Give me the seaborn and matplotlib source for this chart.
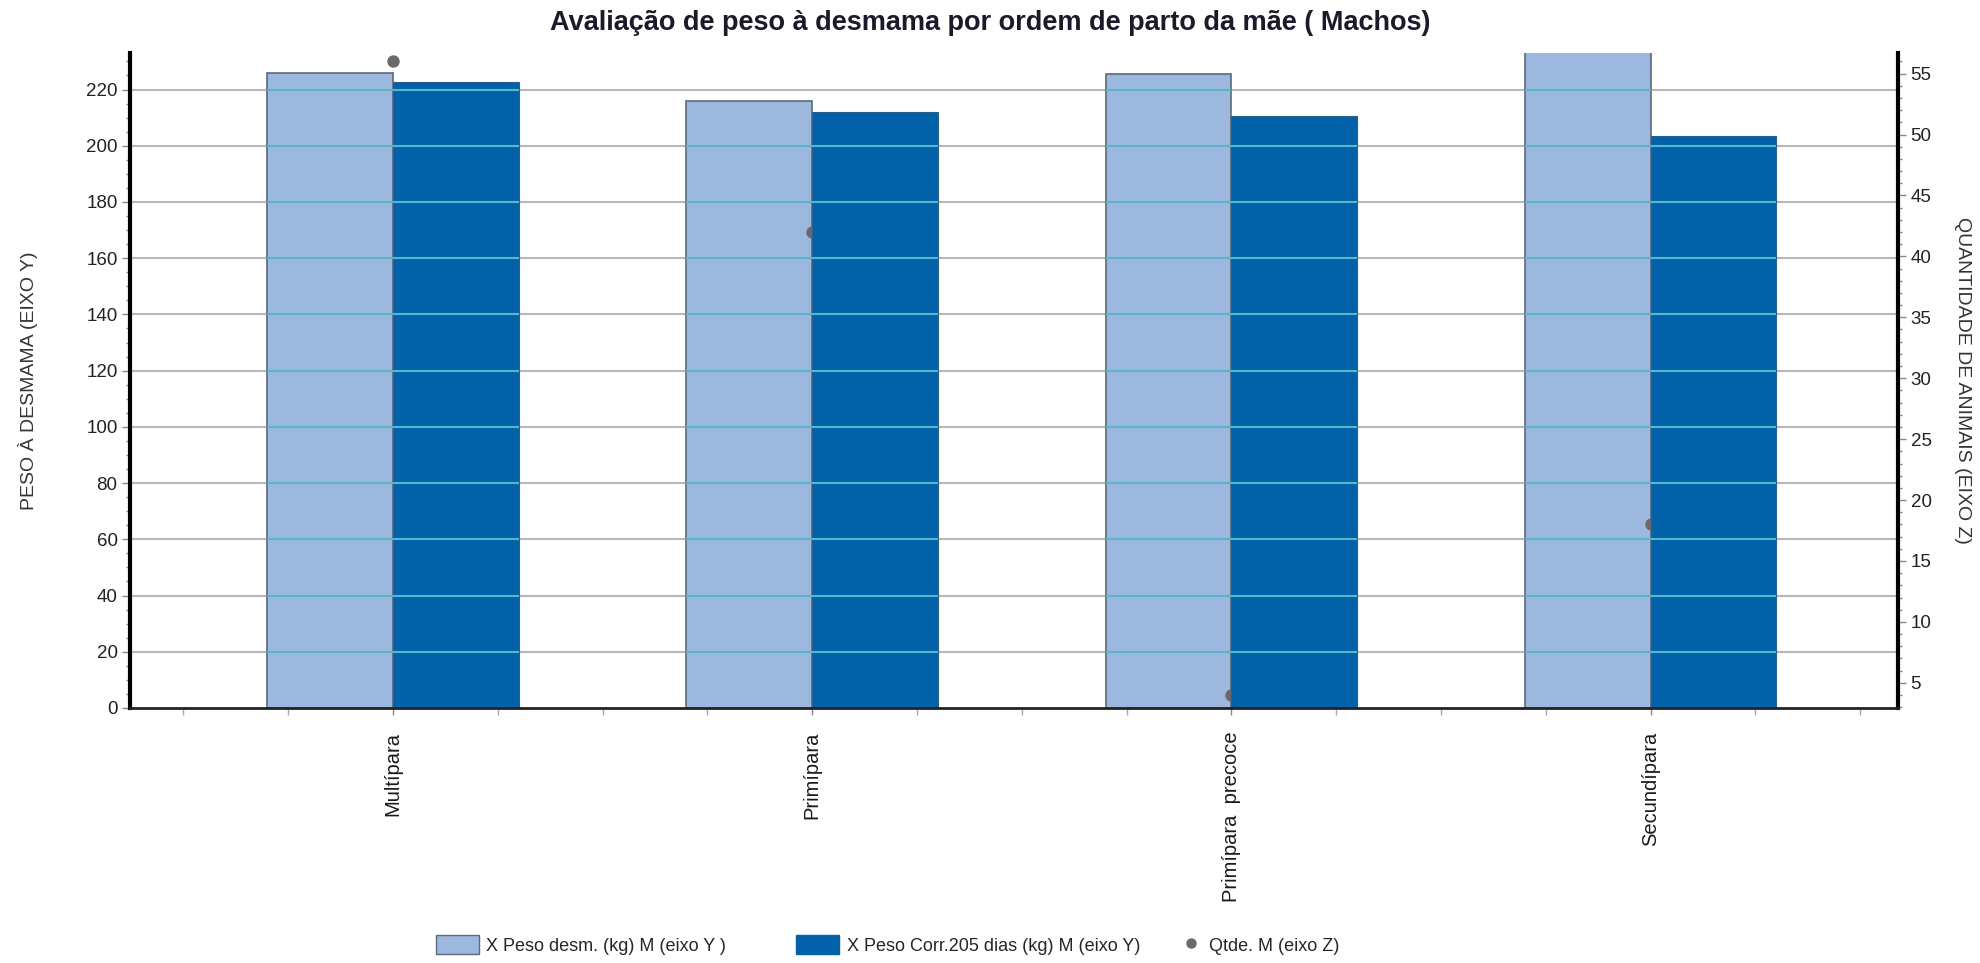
import numpy as np
import pandas as pd
import matplotlib
matplotlib.use("Agg")
import matplotlib.pyplot as plt
import seaborn as sns
from matplotlib.ticker import MultipleLocator
from matplotlib.patches import Patch
from matplotlib.lines import Line2D

# ---------------- data ----------------
categorias = ["Multípara", "Primípara", "Primípara  precoce", "Secundípara"]
peso_desm = [226.0, 216.0, 225.5, 240.0]
peso_corr205 = [222.5, 212.0, 210.5, 203.5]
qtde = [56, 42, 4, 18]
series = ["X Peso desm. (kg) M (eixo Y )", "X Peso Corr.205 dias (kg) M (eixo Y)"]
serie_qtde = "Qtde. M (eixo Z)"
y_ticks = list(range(0, 221, 20))
z_ticks = list(range(5, 56, 5))

# ---------------- style ----------------
sns.set_theme(style="white")
plt.rcParams["font.family"] = ["Liberation Sans", "DejaVu Sans"]

c_light = "#9db8df"
c_dark = "#0262a9"
c_point = "#6a6a6a"

df = pd.DataFrame({
    "categoria": categorias * 2,
    "serie": [series[0]] * len(categorias) + [series[1]] * len(categorias),
    "valor": peso_desm + peso_corr205,
})

fig = plt.figure(figsize=(19.8, 9.63), dpi=100)
ax = fig.add_axes([0.0657, 0.2648, 0.8929, 0.6802])

sns.barplot(data=df, x="categoria", y="valor", hue="serie", order=categorias,
            hue_order=series, palette=[c_light, c_dark], width=0.6,
            dodge=True, legend=False, ax=ax, saturation=1)

# bar styling
for patch in ax.containers[0]:
    patch.set_edgecolor("#5c6b7c")
    patch.set_linewidth(1.2)
    patch.set_zorder(2)
for patch in ax.containers[1]:
    patch.set_edgecolor("#2d5f8c")
    patch.set_linewidth(0.8)
    patch.set_zorder(3)

ax.set_xlim(-0.627, 3.59)
ax.set_ylim(0, 233)

# secondary axis
ax2 = ax.twinx()
ax2.set_ylim(2.93, 56.7)
ax2.set_yticks(z_ticks)
ax2.yaxis.set_minor_locator(MultipleLocator(1))

# points drawn in primary axes with the secondary scale (to sit between bars)
xpos = np.arange(len(categorias))
ax.scatter(xpos, qtde, transform=ax2.transData, s=80, color=c_point,
           zorder=2.5, clip_on=False, linewidths=0)

# gridlines: gray behind, cyan on top of bars
ax.set_yticks(y_ticks)
ax.yaxis.set_minor_locator(MultipleLocator(5))
for yv in y_ticks[1:]:
    ax.axhline(yv, color="#b8b8b8", lw=1.5, zorder=1)
    for patch in list(ax.containers[0]) + list(ax.containers[1]):
        ln = ax.axhline(yv, color="#58b6c9", lw=1.5, zorder=3.5)
        ln.set_clip_path(patch)

# x axis ticks
ax.xaxis.set_minor_locator(MultipleLocator(0.25))
ax.set_xticks(xpos)
ax.set_xticklabels(categorias, rotation=90, va="top", ha="center",
                   fontsize=14.5, color="#1a1a1a")
ax.set_xlabel("")
ax.set_ylabel("")

# spines
for a in (ax, ax2):
    a.spines["top"].set_visible(False)
for s in ("left", "right", "bottom"):
    ax.spines[s].set_visible(False)
ax2.spines["left"].set_color("black")
ax2.spines["left"].set_linewidth(3)
ax2.spines["right"].set_color("black")
ax2.spines["right"].set_linewidth(3)
ax2.spines["bottom"].set_color("#222222")
ax2.spines["bottom"].set_linewidth(2)

ax.tick_params(axis="y", which="major", direction="out", length=6, width=1,
               color="#888888", labelsize=13.5, labelcolor="#222222", pad=3,
               left=True)
ax.tick_params(axis="y", which="minor", direction="out", length=3, width=1,
               color="#888888", left=True)
ax.tick_params(axis="x", which="major", direction="out", length=5, width=1,
               color="#888888", pad=12, bottom=True)
ax.tick_params(axis="x", which="minor", direction="out", length=5, width=1,
               color="#aaaaaa", bottom=True)
ax2.tick_params(axis="y", which="major", direction="out", length=6, width=1,
                color="#888888", labelsize=13.5, labelcolor="#222222", pad=3,
                right=True)
ax2.tick_params(axis="y", which="minor", direction="out", length=3, width=1,
                color="#888888", right=True)

# axis labels
fig.text(0.014, 0.605, "PESO À DESMAMA (EIXO Y)", rotation=90, ha="center",
         va="center", fontsize=14, color="#333333")
fig.text(0.991, 0.605, "QUANTIDADE DE ANIMAIS (EIXO Z)", rotation=-90,
         ha="center", va="center", fontsize=14, color="#333333")

# title
fig.text(0.5, 0.976, "Avaliação de peso à desmama por ordem de parto da mãe ( Machos)",
         ha="center", va="center", fontsize=19.5, fontweight="bold", color="#1a1a2a")

# legend (three entries placed individually)
leg_kw = dict(loc="center left", frameon=False, fontsize=13, borderpad=0,
              borderaxespad=0, handletextpad=0.4, handleheight=1.3)
h1 = Patch(facecolor=c_light, edgecolor="#5c6b7c", label=series[0])
h2 = Patch(facecolor=c_dark, edgecolor=c_dark, label=series[1])
h3 = Line2D([], [], marker="o", color=c_point, lw=0, markersize=6.5, label=serie_qtde)
l1 = fig.legend(handles=[h1], bbox_to_anchor=(0.220, 0.019), handlelength=2.4, **leg_kw)
l2 = fig.legend(handles=[h2], bbox_to_anchor=(0.402, 0.019), handlelength=2.4, **leg_kw)
l3 = fig.legend(handles=[h3], bbox_to_anchor=(0.596, 0.019), handlelength=1.2, **leg_kw)

fig.savefig("out.png", dpi=100)
